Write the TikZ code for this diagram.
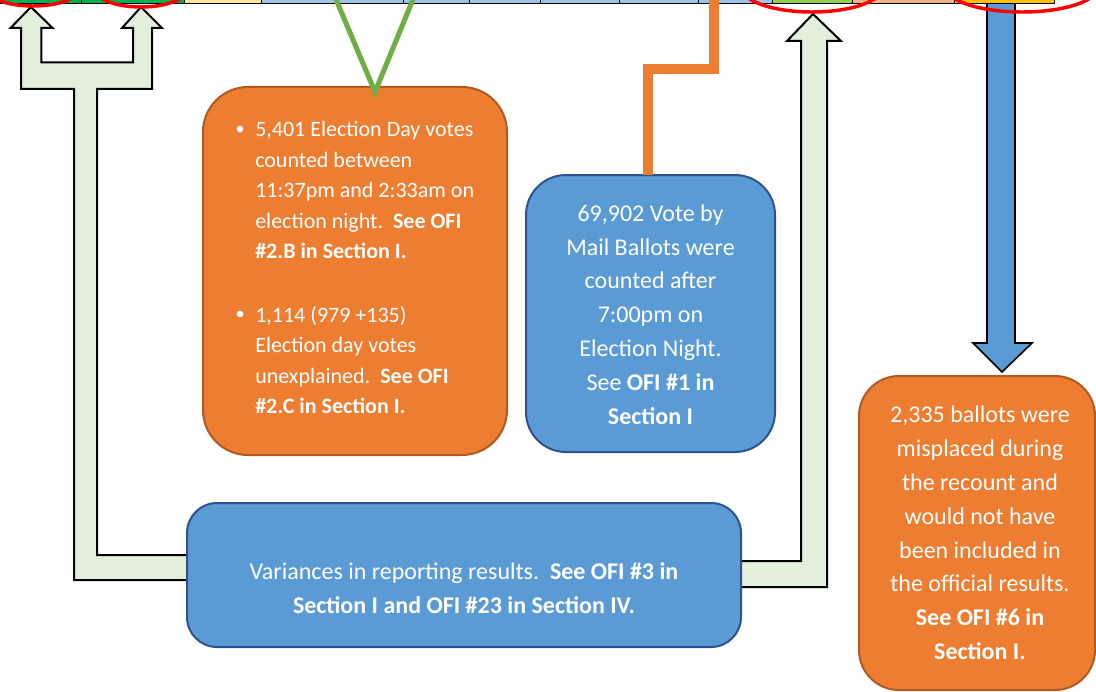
\documentclass[tikz,border=0pt]{standalone}
\usepackage{fontspec}
\setmainfont{Carlito}
\definecolor{orfill}{HTML}{ED7D31}
\definecolor{orline}{HTML}{AE5A21}
\definecolor{blfill}{HTML}{5B9BD5}
\definecolor{blline}{HTML}{2F528F}
\definecolor{lgfill}{HTML}{E2EFDA}
\definecolor{vgreen}{HTML}{70AD47}
\definecolor{cgreen}{HTML}{00B050}
\definecolor{cyellow}{HTML}{FFE699}
\definecolor{cblue}{HTML}{9DC3E6}
\definecolor{clime}{HTML}{92D050}
\definecolor{cpeach}{HTML}{F4B183}
\definecolor{cgold}{HTML}{FFC000}
\begin{document}
\begin{tikzpicture}[x=0.75pt,y=-0.75pt,
  orbox/.style={draw=orline,fill=orfill,line width=1.5pt,inner sep=0pt,outer sep=0pt},
  blbox/.style={draw=blline,fill=blfill,line width=1.5pt,inner sep=0pt,outer sep=0pt},
  bigtext/.style={text=white,align=center,inner sep=0pt,font=\fontsize{18}{25.35}\selectfont},
  bultext/.style={text=white,align=left,inner sep=0pt,anchor=west,font=\fontsize{16.5}{22.9}\selectfont},
  bulletdot/.style={circle,fill=white,inner sep=0pt,minimum size=5pt},
  blockarrow/.style={draw=black,fill=lgfill,line width=1.5pt,line join=miter},
  cell/.style={draw=black,line width=0.75pt},
  redring/.style={draw=red,line width=2.6pt},
  vline/.style={draw=vgreen,line width=3.8pt,line join=miter},
  elbow/.style={draw=orfill,line width=7.5pt,line join=miter}]
\useasboundingbox (0,0) rectangle (1096,692);
\clip (0,0) rectangle (1096,692);

% coordinates for the connectors
\coordinate (vleft) at (335,-3);
\coordinate (vright) at (414,-3);
\coordinate (vtip) at (375,92);
\coordinate (etop) at (714,-3);
\coordinate (ebend) at (714,69);
\coordinate (ebend2) at (648,69);

% block arrows (shapes)
\draw[blockarrow] (31,7) -- (52.6,28) -- (41.4,28) -- (41.4,62.5) -- (133,62.5) -- (133,28) -- (122,28)
  -- (141,7) -- (162,28) -- (152,28) -- (152,89) -- (97,89) -- (97,555) -- (200,555) -- (200,580)
  -- (74,580) -- (74,89) -- (21,89) -- (21,28) -- (10.5,28) -- cycle;
\draw[blockarrow] (813,14) -- (841,41) -- (827,41) -- (827,587) -- (730,587) -- (730,561) -- (801,561)
  -- (801,41) -- (787,41) -- cycle;
\draw[draw=black,fill=blfill,line width=1.2pt,line join=miter] (987,-3) -- (1015,-3) -- (1015,343) -- (1032,343)
  -- (1002,372) -- (973,343) -- (987,343) -- cycle;

% top strip of cells
\foreach \a/\b/\c in {0/81/cgreen,81/184/cgreen,184/261/cyellow,261/403/cblue,403/469/cblue,
  469/540/cblue,540/619/cblue,619/698/cblue,698/772/cblue,772/852/clime,852/954/cpeach,954/1054/cgold}
  \draw[cell,fill=\c] (\a,-5) rectangle (\b,3.5);

% boxes
\node[orbox,rounded corners=33.75pt,minimum width=228pt,minimum height=276pt] (obox) at (355,271) {};
\node[blbox,rounded corners=30pt,minimum width=186.75pt,minimum height=207.75pt] (mbox) at (650.5,313.5) {};
\node[blbox,rounded corners=22.5pt,minimum width=415.5pt,minimum height=108pt] (vbox) at (464,575) {};
\node[orbox,rounded corners=30pt,minimum width=177pt,minimum height=235.5pt] (rbox) at (977,533) {};

% connectors
\draw[vline] (vleft) -- (vtip) -- (vright);
\draw[elbow] (etop) -- (ebend) -- (ebend2) -- (ebend2 |- mbox.north);

% red rings
\draw[redring] (33,-10) ellipse [x radius=45, y radius=16];
\draw[redring] (141,-10) ellipse [x radius=45, y radius=17];
\draw[redring] (812,-12) ellipse [x radius=70, y radius=24];
\draw[redring] (1022,-12) ellipse [x radius=75, y radius=24];

% texts
\node[bulletdot] (d1) at (240,129) {};
\node[bultext] (t1) at (255,190) {5,401 Election Day votes\\counted between\\11:37pm and 2:33am on\\election night.~~\textbf{See OFI}\\\textbf{\#2.B in Section I.}};
\node[bulletdot] (d2) at (240,314) {};
\node[bultext] (t2) at (255,360) {1,114 (979 +135)\\Election day votes\\unexplained.~~\textbf{See OFI}\\\textbf{\#2.C in Section I.}};
\node[bigtext] (mt) at (650.5,314.5) {69,902 Vote by\\Mail Ballots were\\counted after\\7:00pm on\\Election Night.\\See \textbf{OFI \#1 in}\\\textbf{Section I}};
\node[bigtext] (vt) at (464,588) {Variances in reporting results.~~\textbf{See OFI \#3 in}\\\textbf{Section I and OFI \#23 in Section IV.}};
\node[bigtext] (rt) at (980,533) {2,335 ballots were\\misplaced during\\the recount and\\would not have\\been included in\\the official results.\\\textbf{See OFI \#6 in}\\\textbf{Section I.}};
\end{tikzpicture}
\end{document}
